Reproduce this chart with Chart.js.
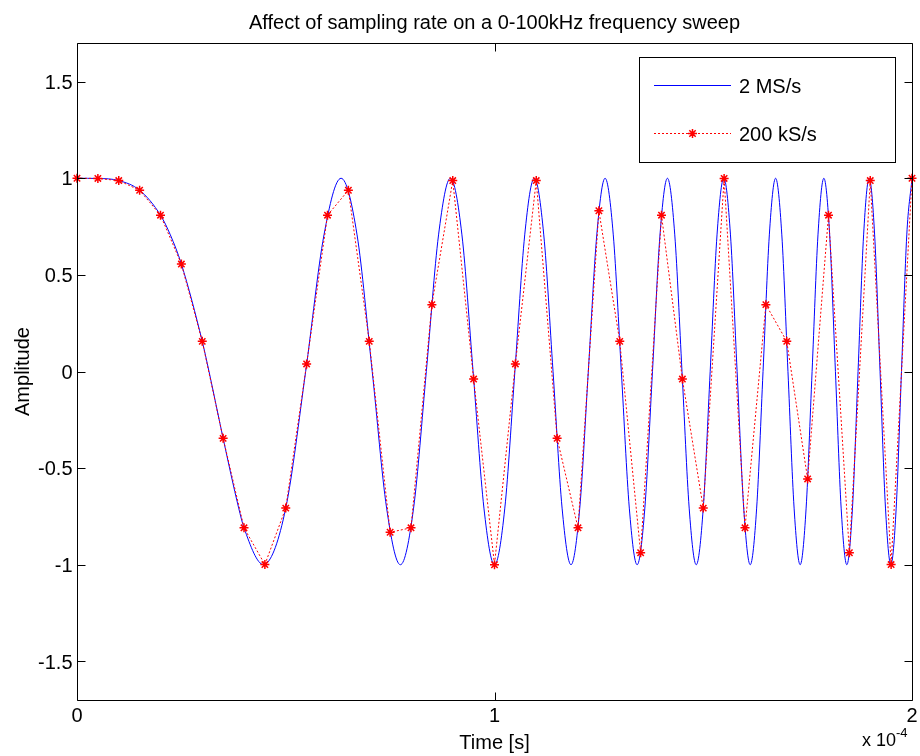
<!DOCTYPE html>
<html>
<head>
<meta charset="utf-8">
<script src="https://cdn.jsdelivr.net/npm/chart.js@4.4.1/dist/chart.umd.min.js"></script>
<style>
  html, body { margin: 0; padding: 0; background: #ffffff; }
  #wrap { width: 920px; height: 756px; }
</style>
</head>
<body>
<div id="wrap"><canvas id="c" width="920" height="756"></canvas></div>
<script>
// ---- data (time in units of 1e-4 s) ----
const xTicks = [0, 1, 2];
const xTickLabels = ['0', '1', '2'];
const yTicks = [-1.5, -1, -0.5, 0, 0.5, 1, 1.5];
const yTickLabels = ['-1.5', '-1', '-0.5', '0', '0.5', '1', '1.5'];

// 2 MS/s trace (read at its extrema, zero crossings and half-way points)
const blueT = [
  0, 0.05, 0.10, 0.15, 0.20, 0.2236, 0.25, 0.30, 0.3162, 0.35, 0.3873, 0.40, 0.4472, 0.45,
  0.5000, 0.5477, 0.5916, 0.6325, 0.6708, 0.7071, 0.7416, 0.7746,
  0.8062, 0.8367, 0.8660, 0.8944, 0.9220, 0.9487, 0.9747, 1.0000,
  1.0247, 1.0488, 1.0724, 1.0954, 1.1180, 1.1402, 1.1619, 1.1832,
  1.2042, 1.2247, 1.2450, 1.2649, 1.2845, 1.3038, 1.3229, 1.3416,
  1.3601, 1.3784, 1.3964, 1.4142, 1.4318, 1.4491, 1.4663, 1.4832,
  1.5000, 1.5166, 1.5330, 1.5492, 1.5652, 1.5811, 1.5969, 1.6125,
  1.6279, 1.6432, 1.6583, 1.6733, 1.6882, 1.7029, 1.7176, 1.7321,
  1.7464, 1.7607, 1.7748, 1.7889, 1.8028, 1.8166, 1.8303, 1.8439,
  1.8574, 1.8708, 1.8841, 1.8974, 1.9105, 1.9235, 1.9365, 1.9494,
  1.9621, 1.9748, 1.9875, 2.0000
];
const blueAmp = [
  1, 0.999, 0.988, 0.938, 0.809, 0.707, 0.556, 0.156, 0, -0.346, -0.707, -0.809, -1, -0.999,
  -0.707, 0, 0.707, 1, 0.707, 0, -0.707, -1,
  -0.707, 0, 0.707, 1, 0.707, 0, -0.707, -1,
  -0.707, 0, 0.707, 1, 0.707, 0, -0.707, -1,
  -0.707, 0, 0.707, 1, 0.707, 0, -0.707, -1,
  -0.707, 0, 0.707, 1, 0.707, 0, -0.707, -1,
  -0.707, 0, 0.707, 1, 0.707, 0, -0.707, -1,
  -0.707, 0, 0.707, 1, 0.707, 0, -0.707, -1,
  -0.707, 0, 0.707, 1, 0.707, 0, -0.707, -1,
  -0.707, 0, 0.707, 1, 0.707, 0, -0.707, -1,
  -0.707, 0, 0.707, 1
];

// 200 kS/s samples
const redT = [
  0, 0.05, 0.10, 0.15, 0.20, 0.25, 0.30, 0.35, 0.40, 0.45,
  0.50, 0.55, 0.60, 0.65, 0.70, 0.75, 0.80, 0.85, 0.90, 0.95,
  1.00, 1.05, 1.10, 1.15, 1.20, 1.25, 1.30, 1.35, 1.40, 1.45,
  1.50, 1.55, 1.60, 1.65, 1.70, 1.75, 1.80, 1.85, 1.90, 1.95, 2.00
];
const redAmp = [
  1.00, 0.999, 0.988, 0.938, 0.809, 0.556, 0.156, -0.346, -0.809, -0.999,
  -0.707, 0.039, 0.809, 0.938, 0.156, -0.832, -0.809, 0.346, 0.988, -0.039,
  -1.00, 0.039, 0.988, -0.346, -0.809, 0.832, 0.156, -0.938, 0.809, -0.039,
  -0.707, 0.999, -0.809, 0.346, 0.156, -0.556, 0.809, -0.938, 0.988, -0.999, 1.00
];

const titleText = 'Affect of sampling rate on a 0-100kHz frequency sweep';
const xLabel = 'Time [s]';
const yLabel = 'Amplitude';
const seriesNames = ['2 MS/s', '200 kS/s'];
const BLUE = '#0000ff';
const RED = '#ff0000';
const RED_DASH = [2, 2];

const FONT = '"Liberation Sans", Arial, Helvetica, sans-serif';

const matlabAxes = {
  id: 'matlabAxes',
  afterDraw(chart) {
    const ctx = chart.ctx;
    const a = chart.chartArea;
    const xs = chart.scales.x, ys = chart.scales.y;
    const L = Math.round(a.left) + 0.5, R = Math.round(a.right) + 0.5;
    const T = Math.round(a.top) + 0.5, B = Math.round(a.bottom) + 0.5;
    const tl = 8;
    ctx.save();
    ctx.strokeStyle = '#000';
    ctx.lineWidth = 1;
    ctx.setLineDash([]);
    ctx.beginPath();
    ctx.rect(L, T, R - L, B - T);
    ctx.stroke();
    // ticks
    ctx.beginPath();
    yTicks.forEach(v => {
      const y = Math.round(ys.getPixelForValue(v)) + 0.5;
      ctx.moveTo(L, y); ctx.lineTo(L + tl, y);
      ctx.moveTo(R, y); ctx.lineTo(R - tl, y);
    });
    xTicks.forEach(v => {
      const x = Math.round(xs.getPixelForValue(v)) + 0.5;
      ctx.moveTo(x, B); ctx.lineTo(x, B - tl);
      ctx.moveTo(x, T); ctx.lineTo(x, T + tl);
    });
    ctx.stroke();
    // tick labels
    ctx.fillStyle = '#000';
    ctx.font = '20px ' + FONT;
    ctx.textAlign = 'right';
    ctx.textBaseline = 'alphabetic';
    yTicks.forEach((v, i) => {
      const y = ys.getPixelForValue(v);
      ctx.fillText(yTickLabels[i], L - 5, y + 7.2);
    });
    ctx.textAlign = 'center';
    xTicks.forEach((v, i) => {
      const x = xs.getPixelForValue(v);
      ctx.fillText(xTickLabels[i], x, B + 21.5);
    });
    // exponent
    ctx.textAlign = 'left';
    ctx.font = '18px ' + FONT;
    ctx.fillText('x 10', 862, 746);
    ctx.font = '13px ' + FONT;
    ctx.fillText('-4', 896, 737);
    // title & axis labels
    ctx.font = '20px ' + FONT;
    ctx.textAlign = 'center';
    const cx = (a.left + a.right) / 2;
    ctx.fillText(titleText, cx, 28.5);
    ctx.fillText(xLabel, cx, 749);
    ctx.save();
    ctx.translate(29, (a.top + a.bottom) / 2);
    ctx.rotate(-Math.PI / 2);
    ctx.fillText(yLabel, 0, 0);
    ctx.restore();
    // legend
    const lx = 639.5, ly = 57.5, lw = 256, lh = 105;
    ctx.fillStyle = '#fff';
    ctx.fillRect(lx, ly, lw, lh);
    ctx.strokeStyle = '#000';
    ctx.lineWidth = 1;
    ctx.strokeRect(lx, ly, lw, lh);
    // blue entry
    ctx.strokeStyle = BLUE;
    ctx.beginPath(); ctx.moveTo(654, 85.5); ctx.lineTo(731, 85.5); ctx.stroke();
    // red entry
    ctx.strokeStyle = RED;
    ctx.setLineDash(RED_DASH);
    ctx.beginPath(); ctx.moveTo(654, 133.5); ctx.lineTo(731, 133.5); ctx.stroke();
    ctx.setLineDash([]);
    ctx.lineWidth = 1.5;
    const mx = 692.5, my = 133.5, r = 4.5, d = r * Math.SQRT1_2;
    ctx.beginPath();
    ctx.moveTo(mx - r, my); ctx.lineTo(mx + r, my);
    ctx.moveTo(mx, my - r); ctx.lineTo(mx, my + r);
    ctx.moveTo(mx - d, my - d); ctx.lineTo(mx + d, my + d);
    ctx.moveTo(mx - d, my + d); ctx.lineTo(mx + d, my - d);
    ctx.stroke();
    ctx.fillStyle = '#000';
    ctx.textAlign = 'left';
    ctx.font = '20px ' + FONT;
    ctx.fillText(seriesNames[0], 739, 93);
    ctx.fillText(seriesNames[1], 739, 141);
    ctx.restore();
  }
};

new Chart(document.getElementById('c'), {
  type: 'scatter',
  data: {
    datasets: [
      {
        label: seriesNames[1],
        data: redT.map((t, i) => ({ x: t, y: redAmp[i] })),
        showLine: true,
        borderColor: RED,
        borderWidth: 1,
        borderDash: RED_DASH,
        tension: 0,
        pointStyle: 'star',
        pointRadius: 4.5,
        pointBorderColor: RED,
        pointBackgroundColor: RED,
        pointBorderWidth: 1.5,
        clip: false,
        order: 0
      },
      {
        label: seriesNames[0],
        data: blueT.map((t, i) => ({ x: t, y: blueAmp[i] })),
        showLine: true,
        borderColor: BLUE,
        borderWidth: 1,
        cubicInterpolationMode: 'monotone',
        pointRadius: 0,
        clip: false,
        order: 1
      }
    ]
  },
  options: {
    responsive: false,
    animation: false,
    events: [],
    layout: { padding: { left: 77, top: 43, right: 8, bottom: 56 } },
    scales: {
      x: { type: 'linear', min: 0, max: 2, display: false },
      y: { type: 'linear', min: -1.7, max: 1.7, display: false }
    },
    plugins: {
      legend: { display: false },
      title: { display: false },
      tooltip: { enabled: false }
    }
  },
  plugins: [matlabAxes]
});
</script>
</body>
</html>
